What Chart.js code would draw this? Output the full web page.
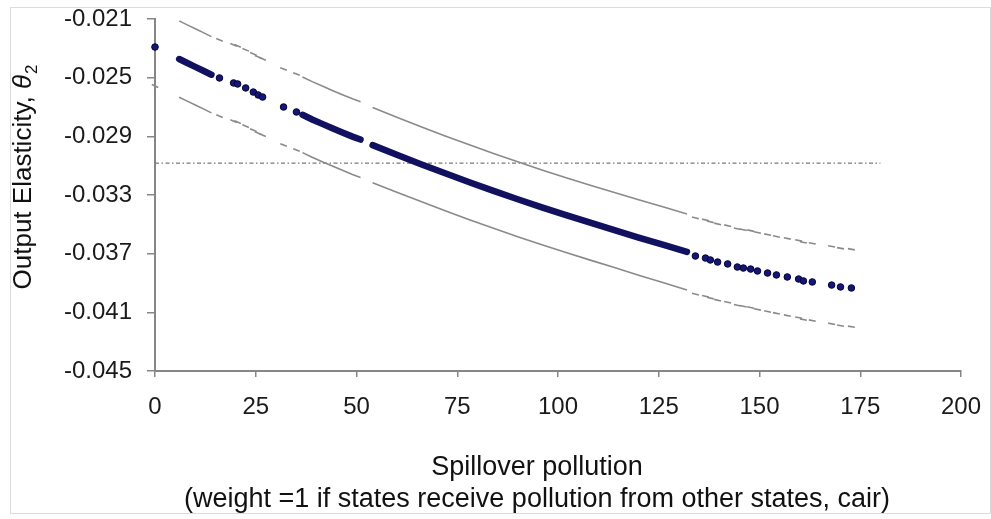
<!DOCTYPE html>
<html>
<head>
<meta charset="utf-8">
<script src="https://cdn.jsdelivr.net/npm/chart.js@4.4.1/dist/chart.umd.min.js"></script>
<style>
  html, body { margin: 0; padding: 0; background: #fff; }
  canvas { display: block; }
</style>
</head>
<body>
<canvas id="elasticityChart" width="991" height="519"></canvas>
<script>
// single observations: spillover pollution, estimate and band
const dotX = [0, 16.0, 19.5, 20.5, 22.5, 24.4, 25.6, 26.7, 31.9, 35.1,
  134.1, 136.6, 137.8, 139.6, 142.1, 144.5, 146.0, 147.8, 149.5, 152.0,
  154.2, 156.9, 159.7, 160.9, 163.1, 167.9, 170.1, 172.8];
const dotTheta = [-0.02291, -0.02502, -0.02536, -0.02543, -0.02570, -0.02598, -0.02618, -0.02632, -0.02700, -0.02734,
  -0.03716, -0.03730, -0.03743, -0.03757, -0.03770, -0.03791, -0.03798, -0.03805, -0.03818, -0.03832,
  -0.03845, -0.03859, -0.03873, -0.03886, -0.03893, -0.03914, -0.03927, -0.03934];
const dotUpper = [-0.02025, -0.02242, -0.02276, -0.02283, -0.02310, -0.02338, -0.02358, -0.02372, -0.02441, -0.02475,
  -0.03456, -0.03470, -0.03483, -0.03497, -0.03509, -0.03530, -0.03537, -0.03543, -0.03556, -0.03570,
  -0.03583, -0.03596, -0.03610, -0.03623, -0.03630, -0.03650, -0.03663, -0.03670];
const dotLower = [-0.02557, -0.02762, -0.02796, -0.02803, -0.02830, -0.02858, -0.02878, -0.02892, -0.02959, -0.02993,
  -0.03976, -0.03990, -0.04003, -0.04017, -0.04031, -0.04052, -0.04059, -0.04067, -0.04080, -0.04094,
  -0.04107, -0.04122, -0.04136, -0.04149, -0.04156, -0.04178, -0.04191, -0.04198];

// dense stretches where the markers merge into a solid line (null = break)
const runX = [6.0, 8.0, 10.0, 12.0, 14.0, 25, 36.6, 39, 41.5, 44, 46.5, 49, 51, 52.5,
  54, 60, 66, 72, 78, 84, 90, 96, 102, 108, 114, 120, 126, 132];
const runTheta = [-0.02373, -0.02400, -0.02426, -0.02453, -0.02480, null,
  -0.02753, -0.02785, -0.02815, -0.02845, -0.02874, -0.02902, -0.02922, null,
  -0.02960, -0.03026, -0.03090, -0.03152, -0.03213, -0.03272, -0.03329, -0.03384,
  -0.03437, -0.03489, -0.03539, -0.03590, -0.03638, -0.03688];
const runUpper = [-0.02113, -0.02140, -0.02166, -0.02193, -0.02220, null,
  -0.02495, -0.02527, -0.02557, -0.02587, -0.02616, -0.02644, -0.02664, null,
  -0.02703, -0.02770, -0.02835, -0.02897, -0.02958, -0.03017, -0.03074, -0.03129,
  -0.03182, -0.03234, -0.03283, -0.03333, -0.03380, -0.03429];
const runLower = [-0.02633, -0.02660, -0.02686, -0.02713, -0.02740, null,
  -0.03011, -0.03043, -0.03073, -0.03103, -0.03132, -0.03160, -0.03180, null,
  -0.03217, -0.03282, -0.03345, -0.03407, -0.03468, -0.03527, -0.03584, -0.03639,
  -0.03692, -0.03744, -0.03795, -0.03847, -0.03896, -0.03947];

// horizontal reference line
const refX = [0, 180];
const refTheta = [-0.03082, -0.03082];

const xTicks = [0, 25, 50, 75, 100, 125, 150, 175, 200];
const yTicks = [-0.045, -0.041, -0.037, -0.033, -0.029, -0.025, -0.021];
const xTitle = ["Spillover pollution", "(weight =1 if states receive pollution from other states, cair)"];
const yTitle = ["Output Elasticity, ", "θ", "2"];

const FONT = '"Liberation Sans", Arial, sans-serif';
const toPts = (xs, ys) => xs.map((x, i) => ({ x: x, y: ys[i] }));
const bandRotation = (c) => 24 - (c.raw ? c.raw.x : 0) * 0.08;

const frameAndTitles = {
  id: "frameAndTitles",
  beforeDraw(chart) {
    const ctx = chart.ctx;
    ctx.save();
    ctx.fillStyle = "#fff";
    ctx.fillRect(0, 0, chart.width, chart.height);
    ctx.strokeStyle = "#dcdcdc";
    ctx.lineWidth = 1;
    ctx.strokeRect(10.5, 7.5, chart.width - 11, 506);
    ctx.restore();
  },
  afterDraw(chart) {
    const ctx = chart.ctx;
    const area = chart.chartArea;
    ctx.save();
    ctx.fillStyle = "#111";
    ctx.textAlign = "center";
    ctx.textBaseline = "middle";
    ctx.font = "27px " + FONT;
    const cx = (area.left + area.right) / 2 - 21;
    ctx.fillText(xTitle[0], cx, 468);
    ctx.fillText(xTitle[1], cx, 500);

    ctx.translate(31, 177);
    ctx.rotate(-Math.PI / 2);
    ctx.textAlign = "left";
    ctx.textBaseline = "alphabetic";
    const fMain = "26px " + FONT, fIt = "italic 26px " + FONT, fSub = "17px " + FONT;
    ctx.font = fMain; const w0 = ctx.measureText(yTitle[0]).width;
    ctx.font = fIt; const w1 = ctx.measureText(yTitle[1]).width;
    ctx.font = fSub; const w2 = ctx.measureText(yTitle[2]).width;
    let x = -(w0 + w1 + w2 + 1) / 2;
    ctx.font = fMain; ctx.fillText(yTitle[0], x, 0); x += w0;
    ctx.font = fIt; ctx.fillText(yTitle[1], x, 0); x += w1 + 1;
    ctx.font = fSub; ctx.fillText(yTitle[2], x, 6);
    ctx.restore();
  }
};

const ctx = document.getElementById("elasticityChart").getContext("2d");
const chart = new Chart(ctx, {
  type: "scatter",
  data: {
    datasets: [
      {
        label: "Observations",
        data: toPts(dotX, dotTheta),
        pointRadius: 3.3,
        pointBackgroundColor: "#16167a",
        pointBorderColor: "#050530",
        pointBorderWidth: 1,
        showLine: false,
        clip: false,
      },
      {
        label: "Estimate (dense)",
        data: toPts(runX, runTheta),
        showLine: true,
        spanGaps: false,
        borderColor: "#111160",
        borderWidth: 6.5,
        borderCapStyle: "round",
        pointRadius: 0,
      },
      {
        label: "Upper band markers",
        data: toPts(dotX, dotUpper),
        showLine: false,
        pointStyle: "line",
        pointRadius: 3.5,
        pointBorderColor: "#8a8a8a",
        pointBorderWidth: 1.6,
        rotation: bandRotation,
      },
      {
        label: "Lower band markers",
        data: toPts(dotX, dotLower),
        showLine: false,
        pointStyle: "line",
        pointRadius: 3.5,
        pointBorderColor: "#8a8a8a",
        pointBorderWidth: 1.6,
        rotation: bandRotation,
        clip: false,
      },
      {
        label: "Upper band",
        data: toPts(runX, runUpper),
        showLine: true,
        spanGaps: false,
        borderColor: "#8a8a8a",
        borderWidth: 1.6,
        pointRadius: 0,
      },
      {
        label: "Lower band",
        data: toPts(runX, runLower),
        showLine: true,
        spanGaps: false,
        borderColor: "#8a8a8a",
        borderWidth: 1.6,
        pointRadius: 0,
      },
      {
        label: "Reference",
        data: toPts(refX, refTheta),
        showLine: true,
        borderColor: "#7a7a7a",
        borderWidth: 1.3,
        borderDash: [4, 2.5, 1.5, 2.5],
        pointRadius: 0,
      },
    ],
  },
  options: {
    responsive: false,
    animation: false,
    layout: { padding: { left: 0, right: 30, top: 19, bottom: 0 } },
    plugins: {
      legend: { display: false },
      tooltip: { enabled: false },
    },
    scales: {
      x: {
        type: "linear",
        min: 0,
        max: 200,
        afterBuildTicks: (scale) => { scale.ticks = xTicks.map((v) => ({ value: v })); },
        afterFit: (scale) => {
          scale.height = 148;
          scale.paddingLeft = 0;
          scale.paddingRight = 20;
        },
        grid: { drawOnChartArea: false, drawTicks: true, tickLength: 6, color: "#868686", lineWidth: 1.5 },
        border: { color: "#868686", width: 2 },
        ticks: { color: "#1a1a1a", padding: 16, font: { family: FONT, size: 24 }, maxRotation: 0 },
      },
      y: {
        type: "linear",
        min: -0.045,
        max: -0.021,
        afterBuildTicks: (scale) => { scale.ticks = yTicks.map((v) => ({ value: v })); },
        afterFit: (scale) => {
          scale.width = 155;
          scale.paddingTop = 12;
          scale.paddingBottom = 12;
        },
        grid: { drawOnChartArea: false, drawTicks: true, tickLength: 8, color: "#868686", lineWidth: 1.5 },
        border: { color: "#868686", width: 2 },
        ticks: {
          color: "#1a1a1a",
          padding: 15,
          font: { family: FONT, size: 24 },
          callback: (v) => v.toFixed(3),
        },
      },
    },
  },
  plugins: [frameAndTitles],
});
</script>
</body>
</html>
